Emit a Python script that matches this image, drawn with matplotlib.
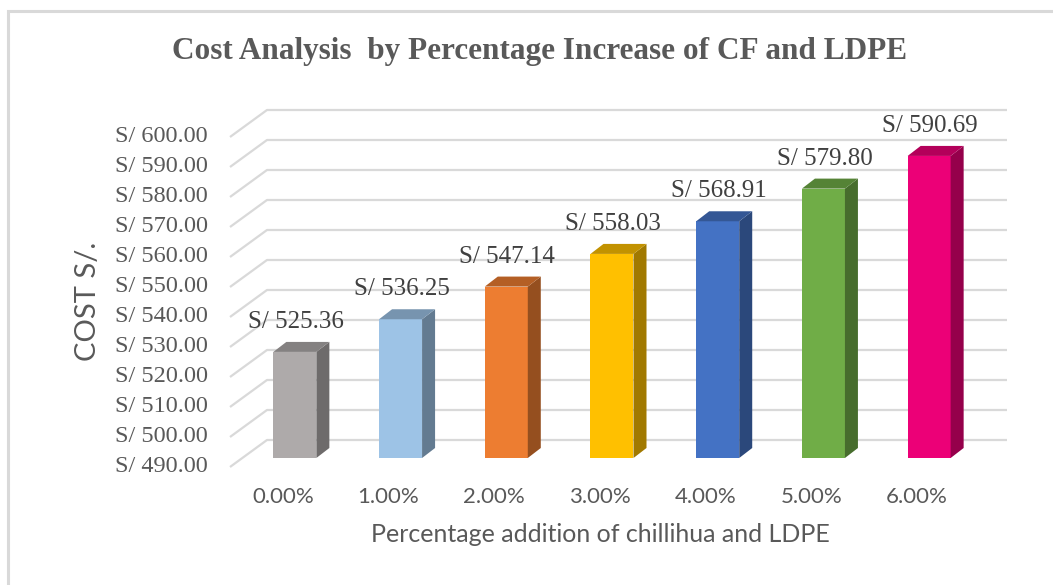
import matplotlib
matplotlib.use("Agg")
import matplotlib.pyplot as plt
from matplotlib.patches import Polygon, Rectangle
from matplotlib.colors import to_rgb

# Data
categories = ['0.00%', '1.00%', '2.00%', '3.00%', '4.00%', '5.00%', '6.00%']
costs = [525.36, 536.25, 547.14, 558.03, 568.91, 579.80, 590.69]
y_ticks = [490, 500, 510, 520, 530, 540, 550, 560, 570, 580, 590, 600]

colors = ['#aeaaaa', '#9dc3e6', '#ed7d31', '#ffc000', '#4472c4', '#70ad47', '#ec0077']

W, H = 1053, 585
fig = plt.figure(figsize=(W / 100, H / 100), dpi=100)
ax = fig.add_axes([0, 0, 1, 1])
ax.axis('off')

# pixel layout of the back wall -> data limits
px_per_cat = 740 / 7.0
px_per_val = 3.0
wall_left_px = 267
ax.set_xlim(-0.5 - wall_left_px / px_per_cat, -0.5 + (W - wall_left_px) / px_per_cat)
ax.set_ylim(490 - (H - 440) / px_per_val, 490 + 440 / px_per_val)

# depth offsets (x in categories, y in value units)
front_dx, front_dy = -37 / px_per_cat, -27 / px_per_val
bar_dx, bar_dy = -25 / px_per_cat, -18 / px_per_val
depth_dx, depth_dy = 13 / px_per_cat, 10 / px_per_val
bar_w = 43 / px_per_cat

grid_col = '#d9d9d9'
text_col = '#595959'

# outer chart border
fig.patches.append(Rectangle((8, -10), 1100, 584, transform=None, fill=False,
                             edgecolor='#d9d9d9', linewidth=2.2))

# gridlines: floor diagonal + back wall
for v in y_ticks:
    ax.plot([-0.5 + front_dx, -0.5, 6.5], [v + front_dy, v, v],
            color=grid_col, lw=1.6, solid_capstyle='butt', zorder=1)
    ax.text(-0.5 + front_dx - 22 / px_per_cat, v + front_dy, f'S/ {v:.2f}',
            ha='right', va='center', fontsize=17.5, color=text_col,
            family='Liberation Serif')


def shade(c, f):
    r, g, b = to_rgb(c)
    return (r * f, g * f, b * f)


for i, (cat, v, c) in enumerate(zip(categories, costs, colors)):
    xl = i + bar_dx - bar_w / 2
    xr = xl + bar_w
    y0 = 490 + bar_dy
    y1 = v + bar_dy
    ax.add_patch(Polygon([(xl, y0), (xr, y0), (xr, y1), (xl, y1)],
                         facecolor=c, edgecolor='none', zorder=3))
    ax.add_patch(Polygon([(xr, y0), (xr + depth_dx, y0 + depth_dy),
                          (xr + depth_dx, y1 + depth_dy), (xr, y1)],
                         facecolor=shade(c, 0.63), edgecolor='none', zorder=3))
    ax.add_patch(Polygon([(xl, y1), (xr, y1), (xr + depth_dx, y1 + depth_dy),
                          (xl + depth_dx, y1 + depth_dy)],
                         facecolor=shade(c, 0.76), edgecolor='none', zorder=3))
    ax.text(i + bar_dx + 0.01, v + 0.3, f'S/ {v:.2f}', ha='center', va='bottom',
            fontsize=18, color='#404040', family='Liberation Serif', zorder=4)
    ax.text(i + front_dx, 490 + (440 - 497) / px_per_val, cat, ha='center',
            va='center', fontsize=16, color=text_col, family='Lato')

fig.text(540 / W, 1 - 52 / H, 'Cost Analysis  by Percentage Increase of CF and LDPE',
         ha='center', va='center', fontsize=22.5, fontweight='bold', color=text_col,
         family='Liberation Serif')
fig.text(600 / W, 1 - 535 / H, 'Percentage addition of chillihua and LDPE',
         ha='center', va='center', fontsize=18, color=text_col, family='Lato')
fig.text(88 / W, 1 - 301 / H, 'COST S/.', ha='center', va='center', rotation=90,
         fontsize=21, color=text_col, family='Lato')

fig.savefig('out.png', dpi=100)
